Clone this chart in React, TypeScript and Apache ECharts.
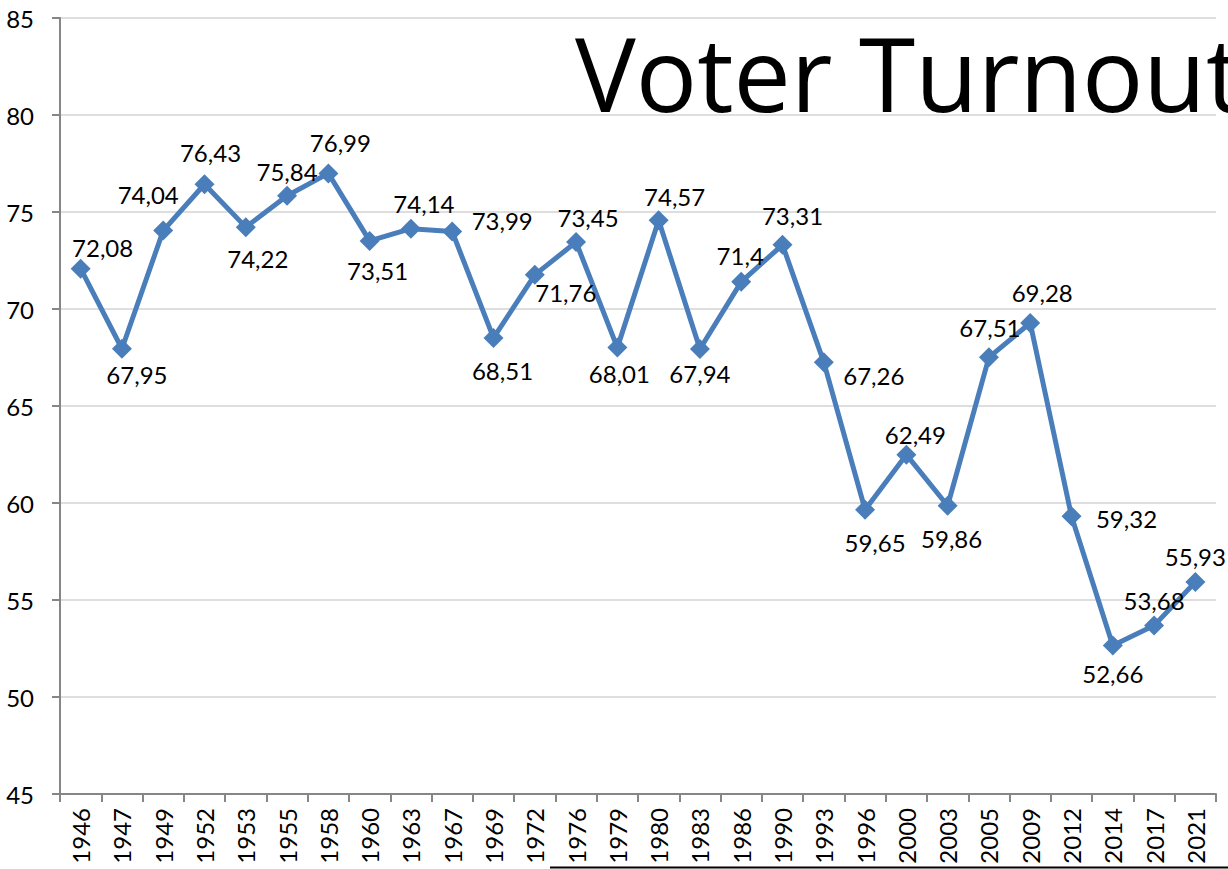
import React, { useEffect, useRef } from "react";
import * as echarts from "echarts";

const years = [
  "1946", "1947", "1949", "1952", "1953", "1955", "1958", "1960", "1963", "1967",
  "1969", "1972", "1976", "1979", "1980", "1983", "1986", "1990", "1993", "1996",
  "2000", "2003", "2005", "2009", "2012", "2014", "2017", "2021",
];

const turnout = [
  72.08, 67.95, 74.04, 76.43, 74.22, 75.84, 76.99, 73.51, 74.14, 73.99,
  68.51, 71.76, 73.45, 68.01, 74.57, 67.94, 71.4, 73.31, 67.26, 59.65,
  62.49, 59.86, 67.51, 69.28, 59.32, 52.66, 53.68, 55.93,
];

const yTicks = { min: 45, max: 85, interval: 5 };
const titleText = "Voter Turnout";

// label placement (offset from the marker centre), layout only
const labelOffsets: [number, number][] = [
  [22, -21], [15, 26], [-15, -36], [6, -32], [12, 31], [0, -24], [12, -31], [8, 30],
  [13, -25], [50, -11], [9, 33], [31, 18], [12, -25], [2, 26], [16, -24], [0, 25],
  [-1, -26], [10, -29], [50, 13], [10, 33], [9, -20], [4, 33], [1, -30], [12, -30],
  [55, 2], [0, 28], [0, -25], [0, -25],
];

const FONT = "Lato, 'Open Sans', sans-serif";
const TITLE_FONT = "'Open Sans', Lato, sans-serif";

export default function App() {
  const ref = useRef<HTMLDivElement>(null);
  useEffect(() => {
    if (!ref.current) return;
    const chart = echarts.init(ref.current, null, { renderer: "svg" });
    const fmt = (v: number) => String(v).replace(".", ",");
    chart.setOption({
      animation: false,
      backgroundColor: "#ffffff",
      grid: { left: 60, right: 12, top: 18, bottom: 75, containLabel: false },
      xAxis: {
        type: "category",
        data: years,
        boundaryGap: true,
        axisLine: { lineStyle: { color: "#868686", width: 2 } },
        axisTick: { show: true, alignWithLabel: false, length: 8, lineStyle: { color: "#868686", width: 2 } },
        axisLabel: {
          rotate: 90,
          interval: 0,
          margin: 14,
          color: "#000",
          fontSize: 24,
          fontFamily: FONT,
        },
        splitLine: { show: false },
      },
      yAxis: {
        type: "value",
        min: yTicks.min,
        max: yTicks.max,
        interval: yTicks.interval,
        axisLine: { show: true, lineStyle: { color: "#868686", width: 2 } },
        axisTick: { show: true, length: 8, lineStyle: { color: "#868686", width: 2 } },
        axisLabel: {
          margin: 26,
          color: "#000",
          fontSize: 24,
          fontFamily: FONT,
        },
        splitLine: { show: true, lineStyle: { color: "#dedede", width: 2 } },
      },
      series: [
        {
          type: "line",
          data: turnout.map((v, i) => ({
            value: v,
            label: { offset: labelOffsets[i] },
          })),
          symbol: "diamond",
          symbolSize: 20,
          itemStyle: { color: "#4a7ebb" },
          lineStyle: { color: "#4a7ebb", width: 5 },
          label: {
            show: true,
            position: "inside",
            align: "center",
            verticalAlign: "middle",
            color: "#000",
            fontSize: 24,
            fontFamily: FONT,
            formatter: (p: any) => fmt(p.value),
          },
          z: 3,
        },
      ],
      graphic: [
        {
          type: "text",
          x: 575,
          y: 72,
          z: 10,
          style: {
            text: titleText,
            fill: "#000",
            font: `102px ${TITLE_FONT}`,
            textAlign: "left",
            textVerticalAlign: "middle",
          },
        },
        {
          type: "line",
          shape: { x1: 550, y1: 867.5, x2: 1228, y2: 867.5 },
          style: { stroke: "#000", lineWidth: 2 },
        },
      ],
    });
    return () => chart.dispose();
  }, []);
  return (
    <div
      ref={ref}
      style={{ position: "fixed", left: 0, top: 0, width: 1228, height: 869 }}
    />
  );
}
